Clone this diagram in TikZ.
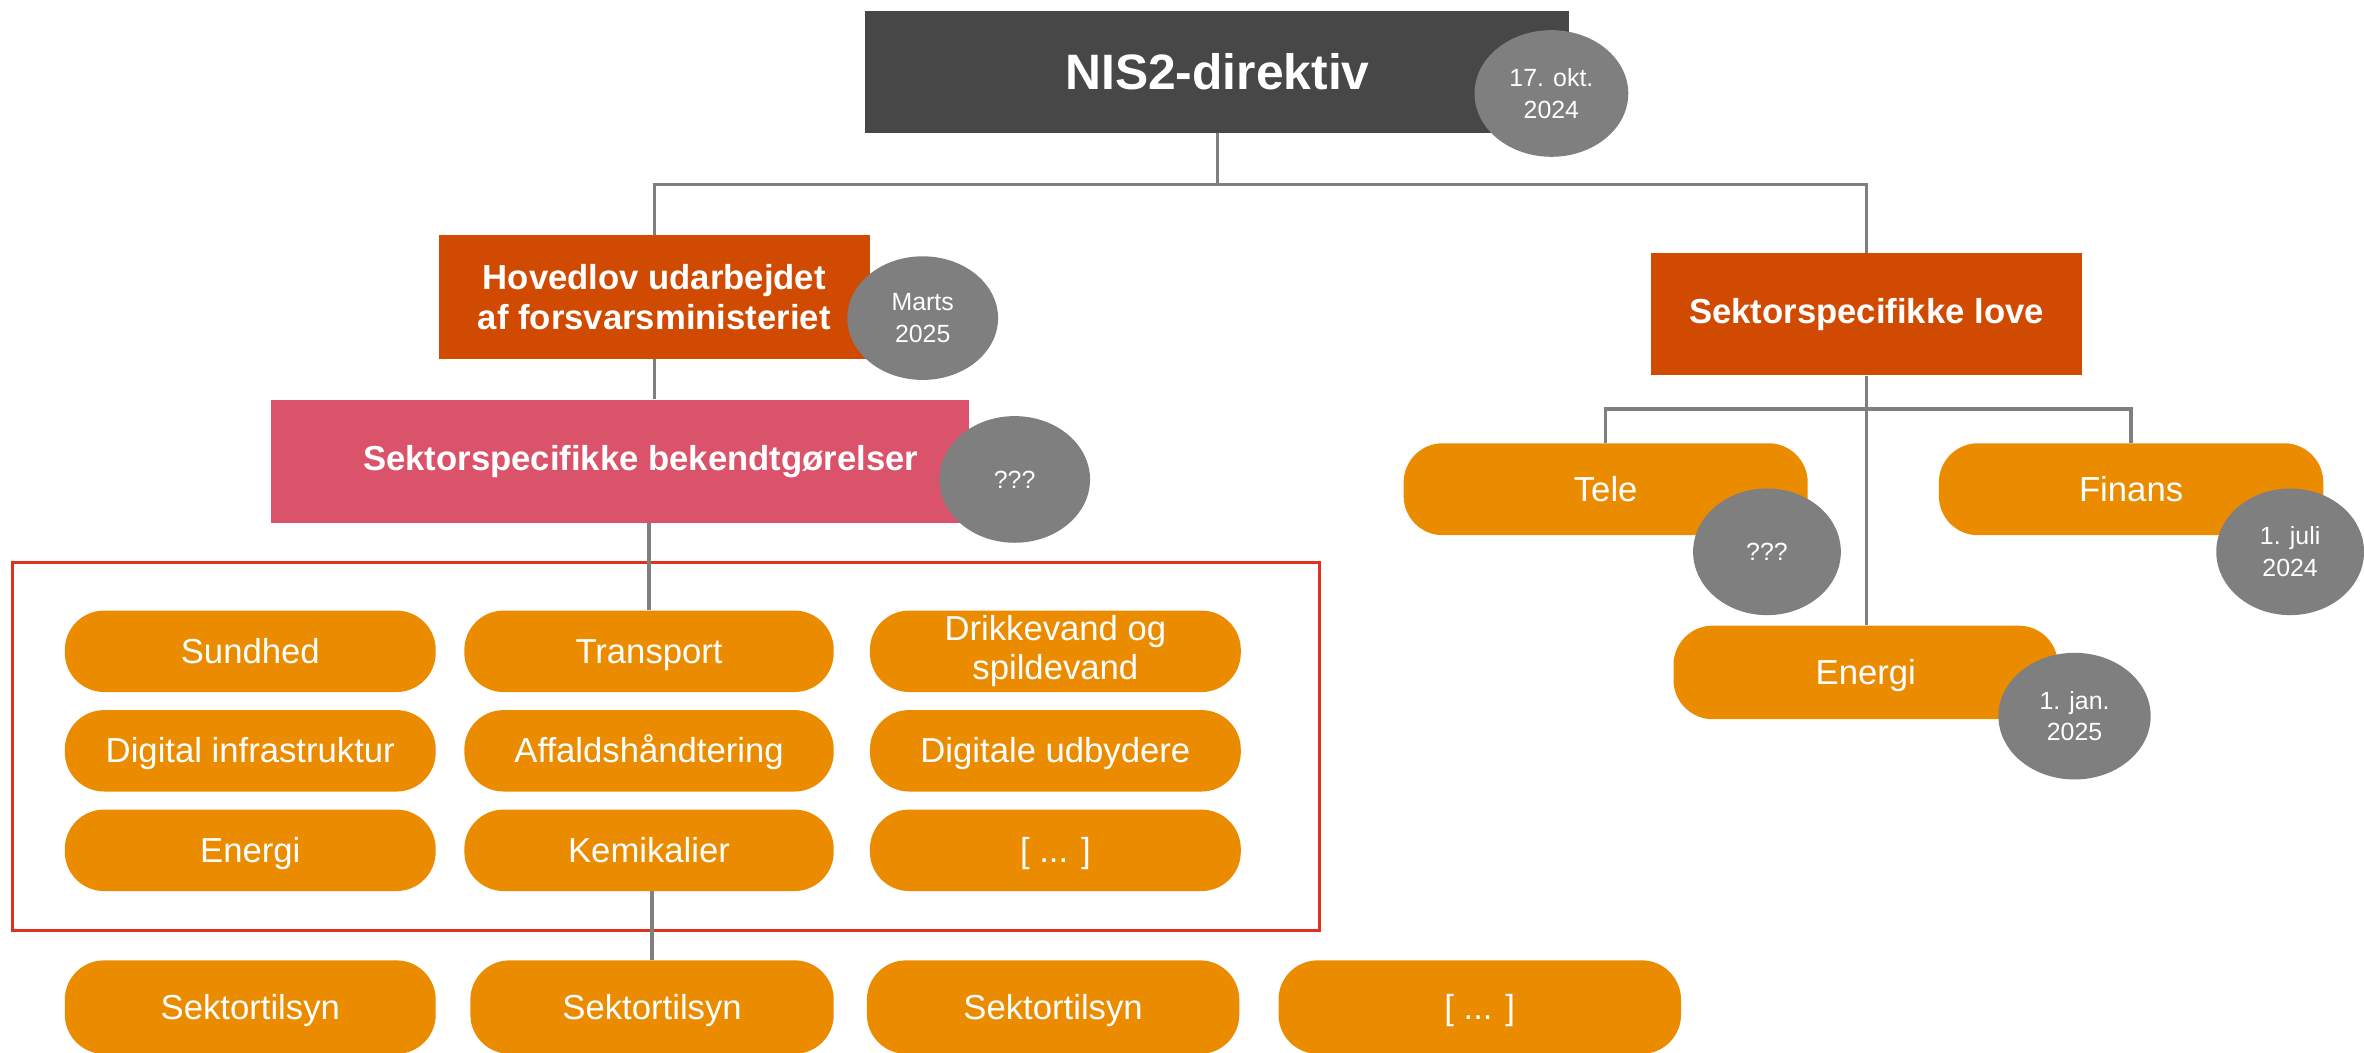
\documentclass[tikz,border=0pt]{standalone}
\usepackage{fontspec}
\setmainfont{Liberation Sans}
\usetikzlibrary{shapes.geometric,calc}
\definecolor{darkbox}{HTML}{474747}
\definecolor{dategray}{HTML}{7F7F7F}
\definecolor{lineg}{HTML}{7F7F7F}
\definecolor{rust}{HTML}{D04A02}
\definecolor{rose}{HTML}{DB536A}
\definecolor{amber}{HTML}{EB8C00}
\definecolor{frame}{HTML}{E0301E}
\tikzset{
  boxbase/.style={rectangle, inner sep=0pt, align=center, text=white},
  topbox/.style={boxbase, fill=darkbox, font=\bfseries\fontsize{33}{38}\selectfont},
  rustbox/.style={boxbase, fill=rust, font=\bfseries\fontsize{23}{27}\selectfont},
  rosebox/.style={boxbase, fill=rose, font=\bfseries\fontsize{23}{27}\selectfont},
  pillbase/.style={boxbase, fill=amber, rounded corners=26pt, font=\fontsize{23}{26}\selectfont},
  pill/.style={pillbase, text height=19pt, text depth=3pt},
  datebub/.style={ellipse, inner sep=0pt, fill=dategray, text=white, align=center, font=\fontsize{16.5}{21}\selectfont},
  conn/.style={draw=lineg, line width=2.3pt},
}
\begin{document}
\begin{tikzpicture}[x=1pt,y=-1pt]
\clip (0,0) rectangle (1568,698);
\fill[white] (0,0) rectangle (1568,698);

% frame
\node[draw=frame, line width=2pt, rectangle, minimum width=867pt, minimum height=244pt, inner sep=0pt] (frm) at (441.5,495) {};

% main boxes
\node[topbox, minimum width=467pt, minimum height=81pt] (nis) at (807.5,47.5) {NIS2-direktiv};
\node[rustbox, minimum width=286pt, minimum height=82pt] (hov) at (434,197) {Hovedlov udarbejdet\\af forsvarsministeriet};
\node[rosebox, minimum width=463pt, minimum height=82pt] (bek) at (411.5,306) {\hspace*{27pt}Sektorspecifikke bekendtgørelser};
\node[rustbox, minimum width=286pt, minimum height=81pt] (love) at (1238,208.5) {Sektorspecifikke love};

% grid pills
\node[pill, minimum width=246pt, minimum height=54pt] (sund) at (166,432) {Sundhed};
\node[pill, minimum width=245pt, minimum height=54pt] (trans) at (430.5,432) {Transport};
\node[pillbase, minimum width=246pt, minimum height=54pt] (drik) at (700,432) {Drikkevand og\\spildevand};
\node[pill, minimum width=246pt, minimum height=54pt] (digi) at (166,498) {Digital infrastruktur};
\node[pill, minimum width=245pt, minimum height=54pt] (affa) at (430.5,498) {Affaldshåndtering};
\node[pill, minimum width=246pt, minimum height=54pt] (udb) at (700,498) {Digitale udbydere};
\node[pill, minimum width=246pt, minimum height=54pt] (ener) at (166,564) {Energi};
\node[pill, minimum width=245pt, minimum height=54pt] (kemi) at (430.5,564) {Kemikalier};
\node[pill, minimum width=246pt, minimum height=54pt] (dots) at (700,564) {[ ... ]};

% bottom row
\node[pill, minimum width=246pt, minimum height=62pt] (st1) at (166,668) {Sektortilsyn};
\node[pill, minimum width=241pt, minimum height=62pt] (st2) at (432.5,668) {Sektortilsyn};
\node[pill, minimum width=247pt, minimum height=62pt] (st3) at (698.5,668) {Sektortilsyn};
\node[pill, minimum width=267pt, minimum height=62pt] (st4) at (981.5,668) {[ ... ]};

% right pills
\node[pill, minimum width=268pt, minimum height=61pt] (tele) at (1065,324.5) {Tele};
\node[pill, minimum width=255pt, minimum height=61pt] (fin) at (1413.5,324.5) {Finans};
\node[pill, minimum width=255pt, minimum height=62pt] (eng) at (1237.5,446) {Energi};

% connectors
\coordinate (tj) at ($(nis.south)+(0,34)$);
\coordinate (rj) at ($(love.south)+(0,22)$);
\draw[conn] (nis.south) -- (tj);
\draw[conn] (hov.north) |- (tj) -| (love.north);
\draw[conn] (hov.south) -- (hov.south |- bek.north);
\draw[conn] (trans.north) -- (trans.north |- bek.south);
\draw[conn] (st2.north) -- (st2.north |- kemi.south);
\draw[conn] (love.south) -- (love.south |- eng.north);
\draw[conn] (tele.north) |- (rj) -| (fin.north);

% date bubbles
\node[datebub, minimum width=102pt, minimum height=84pt] (d1) at (1029,62) {17. okt.\\2024};
\node[datebub, minimum width=100pt, minimum height=82pt] (d2) at (612,211) {Marts\\2025};
\node[datebub, minimum width=100pt, minimum height=84pt] (d3) at (673,318) {???};
\node[datebub, minimum width=98pt, minimum height=84pt] (d4) at (1172,366) {???};
\node[datebub, minimum width=98pt, minimum height=84pt] (d5) at (1519,366) {1. juli\\2024};
\node[datebub, minimum width=101pt, minimum height=84pt] (d6) at (1376,475) {1. jan.\\2025};
\end{tikzpicture}
\end{document}
